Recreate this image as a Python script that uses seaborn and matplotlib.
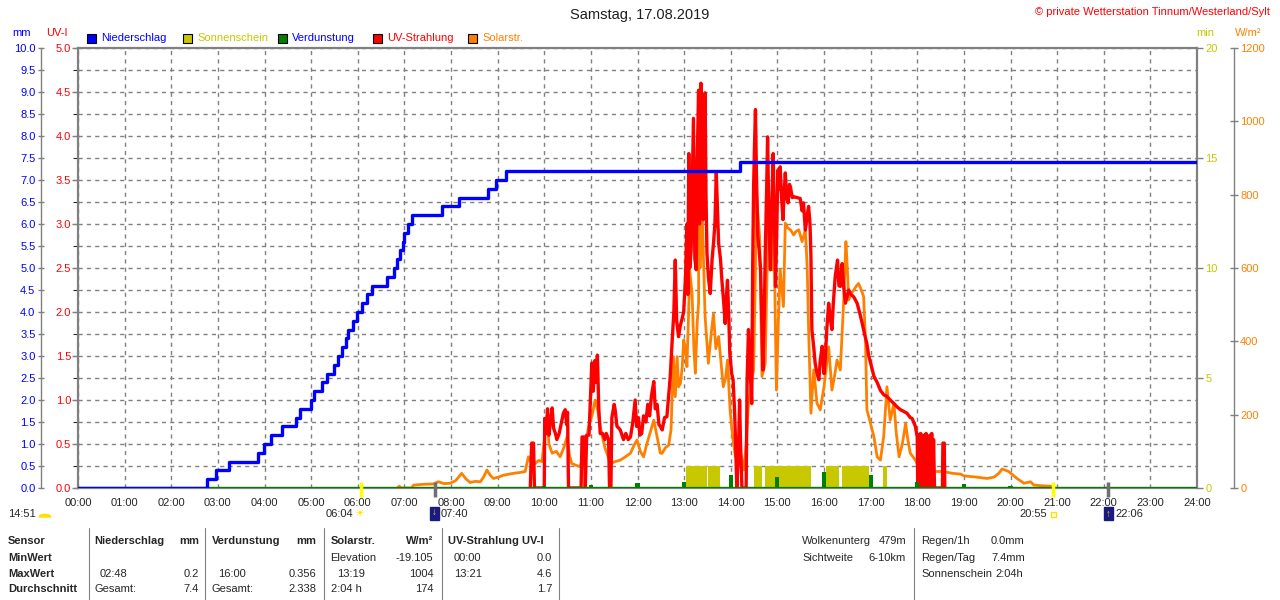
import matplotlib
matplotlib.use("Agg")
import matplotlib.pyplot as plt
from matplotlib.patches import Rectangle, Wedge
from matplotlib.lines import Line2D
import seaborn as sns

W, H = 1280, 600

# --- Niederschlag kumuliert (mm), Stufen vom Kippzähler ---
regen_zeit = [0.0, 2.76, 2.96, 3.24, 3.86, 3.99, 4.15, 4.38, 4.67, 4.77, 4.99,
              5.07, 5.24, 5.35, 5.48, 5.57, 5.67, 5.74, 5.79, 5.90, 5.99,
              6.10, 6.19, 6.31, 6.62, 6.77, 6.85, 6.91, 6.96, 7.00, 7.07,
              7.16, 7.80, 8.17, 8.80, 8.96, 9.18, 14.20, 24.0]
regen_mm = [0.0, 0.2, 0.4, 0.6, 0.8, 1.0, 1.2, 1.4, 1.6, 1.8, 2.0,
            2.2, 2.4, 2.6, 2.8, 3.0, 3.2, 3.4, 3.6, 3.8, 4.0,
            4.2, 4.4, 4.6, 4.8, 5.0, 5.2, 5.4, 5.6, 5.8, 6.0,
            6.2, 6.4, 6.6, 6.8, 7.0, 7.2, 7.4, 7.4]

# --- UV-Strahlung (UV-I) ---
uv_zeit = [9.70, 9.73, 9.77, 9.79, 10.00, 10.01, 10.04, 10.07, 10.10, 10.13, 10.17, 10.20,
           10.24, 10.27, 10.32, 10.37, 10.41, 10.45, 10.48, 10.50, 10.52, 10.79, 10.81, 10.86,
           10.88, 10.91, 10.96, 10.99, 11.02, 11.05, 11.09, 11.12, 11.14, 11.17, 11.20, 11.25,
           11.30, 11.33, 11.38, 11.40, 11.43, 11.45, 11.50, 11.52, 11.56, 11.60, 11.63, 11.70,
           11.75, 11.80, 11.85, 11.90, 11.95, 11.98, 12.02, 12.05, 12.09, 12.13, 12.18, 12.22,
           12.26, 12.30, 12.35, 12.38, 12.42, 12.46, 12.49, 12.53, 12.58, 12.63, 12.66, 12.70,
           12.74, 12.78, 12.81, 12.84, 12.88, 12.92, 12.95, 12.99, 13.03, 13.06, 13.08, 13.10,
           13.12, 13.15, 13.17, 13.20, 13.23, 13.26, 13.28, 13.31, 13.33, 13.36, 13.38, 13.41,
           13.43, 13.45, 13.47, 13.49, 13.52, 13.56, 13.60, 13.63, 13.66, 13.69, 13.72, 13.74,
           13.78, 13.81, 13.85, 13.88, 13.91, 13.93, 13.96, 13.98, 14.02, 14.05, 14.08, 14.10,
           14.12, 14.13, 14.17, 14.19, 14.21, 14.24, 14.33, 14.35, 14.38, 14.41, 14.45, 14.47,
           14.49, 14.51, 14.53, 14.55, 14.58, 14.61, 14.64, 14.67, 14.69, 14.72, 14.74, 14.77,
           14.79, 14.82, 14.85, 14.88, 14.91, 14.94, 14.96, 14.99, 15.01, 15.04, 15.06, 15.09,
           15.12, 15.15, 15.17, 15.20, 15.23, 15.26, 15.28, 15.32, 15.35, 15.42, 15.49, 15.53,
           15.56, 15.60, 15.64, 15.67, 15.70, 15.72, 15.74, 15.78, 15.81, 15.85, 15.89, 15.92,
           15.96, 16.00, 16.03, 16.06, 16.10, 16.13, 16.17, 16.20, 16.24, 16.29, 16.32, 16.35,
           16.39, 16.42, 16.46, 16.53, 16.58, 16.64, 16.71, 16.77, 16.82, 16.87, 16.92, 16.96,
           17.00, 17.07, 17.14, 17.21, 17.28, 17.35, 17.42, 17.50, 17.57, 17.64, 17.71, 17.78,
           17.85, 17.89, 17.96, 18.00, 18.01, 18.03, 18.05, 18.07, 18.09, 18.11, 18.13, 18.15,
           18.17, 18.19, 18.21, 18.23, 18.25, 18.27, 18.29, 18.31, 18.33, 18.35, 18.37, 18.54,
           18.55, 18.58, 18.59]
uv_wert = [0.0, 0.51, 0.51, 0.0, 0.0, 0.79, 0.62, 0.90, 0.60, 0.75, 0.91, 0.68,
           0.62, 0.55, 0.62, 0.75, 0.85, 0.89, 0.72, 0.86, 0.0, 0.0, 0.58, 0.58,
           0.0, 0.60, 0.60, 1.00, 1.42, 1.10, 1.45, 1.20, 1.51, 0.90, 0.62, 0.62,
           0.55, 0.62, 0.55, 0.0, 0.0, 0.80, 0.95, 0.89, 0.70, 0.68, 0.66, 0.55,
           0.62, 0.55, 0.58, 0.75, 1.00, 0.70, 0.80, 0.60, 0.62, 0.82, 0.75, 0.95,
           0.82, 1.05, 1.21, 0.90, 0.95, 0.72, 0.70, 0.66, 0.80, 0.81, 1.00, 1.25,
           1.64, 2.00, 2.59, 1.90, 1.72, 1.85, 1.91, 2.00, 2.40, 3.00, 2.20, 3.80,
           2.50, 2.70, 3.30, 4.20, 2.60, 2.48, 3.70, 4.52, 3.00, 4.60, 3.50, 3.05,
           4.20, 4.49, 3.30, 2.67, 2.40, 2.21, 2.60, 2.78, 3.00, 3.58, 3.10, 2.78,
           2.60, 2.36, 2.10, 1.87, 2.20, 2.36, 1.90, 1.53, 1.30, 1.23, 0.90, 0.58,
           0.20, 0.0, 0.50, 1.00, 0.50, 0.0, 0.0, 1.20, 1.80, 1.40, 0.96, 2.50,
           3.42, 3.90, 4.30, 3.60, 2.86, 2.70, 2.48, 1.80, 1.34, 2.00, 2.67, 3.40,
           3.99, 3.00, 2.48, 3.20, 3.80, 3.00, 2.29, 3.00, 3.61, 3.40, 3.65, 3.30,
           3.05, 3.40, 3.58, 3.30, 3.24, 3.45, 3.42, 3.30, 3.31, 3.30, 3.29, 3.15,
           3.24, 2.93, 3.10, 3.20, 3.00, 2.63, 1.80, 1.60, 1.42, 1.30, 1.23, 1.45,
           1.61, 1.30, 1.49, 1.80, 2.10, 1.95, 1.80, 2.10, 2.40, 2.59, 2.30, 2.29,
           2.55, 2.30, 2.10, 2.25, 2.20, 2.17, 2.10, 1.98, 1.87, 1.75, 1.64, 1.50,
           1.42, 1.27, 1.20, 1.11, 1.06, 1.04, 1.00, 0.96, 0.92, 0.89, 0.87, 0.85,
           0.80, 0.79, 0.70, 0.58, 0.0, 0.60, 0.0, 0.62, 0.0, 0.60, 0.05, 0.60,
           0.0, 0.62, 0.0, 0.58, 0.0, 0.60, 0.0, 0.62, 0.0, 0.55, 0.0, 0.0,
           0.51, 0.51, 0.0]

# --- Solarstrahlung (W/m²) ---
solar_zeit = [6.85, 6.89, 6.93, 7.15, 7.20, 7.40, 7.62, 7.73, 7.85, 7.98, 8.10, 8.23,
              8.32, 8.41, 8.52, 8.63, 8.70, 8.77, 8.84, 8.91, 9.02, 9.13, 9.25, 9.34,
              9.46, 9.59, 9.66, 9.72, 9.81, 9.88, 9.95, 10.02, 10.06, 10.10, 10.17, 10.26,
              10.34, 10.42, 10.49, 10.54, 10.59, 10.68, 10.77, 10.86, 10.95, 11.03, 11.09, 11.15,
              11.20, 11.30, 11.42, 11.52, 11.63, 11.74, 11.85, 11.92, 11.99, 12.06, 12.13, 12.20,
              12.27, 12.35, 12.42, 12.49, 12.53, 12.60, 12.67, 12.72, 12.77, 12.81, 12.85, 12.88,
              12.92, 12.96, 12.99, 13.03, 13.06, 13.09, 13.12, 13.17, 13.21, 13.24, 13.28, 13.31,
              13.32, 13.34, 13.38, 13.42, 13.45, 13.52, 13.58, 13.63, 13.68, 13.74, 13.80, 13.84,
              13.89, 13.93, 13.99, 14.05, 14.10, 14.17, 14.22, 14.28, 14.33, 14.38, 14.44, 14.49,
              14.53, 14.55, 14.58, 14.62, 14.67, 14.74, 14.78, 14.81, 14.85, 14.89, 14.92, 14.95,
              14.98, 15.02, 15.06, 15.13, 15.17, 15.22, 15.28, 15.35, 15.40, 15.46, 15.53, 15.60,
              15.64, 15.67, 15.72, 15.78, 15.85, 15.92, 16.00, 16.05, 16.10, 16.17, 16.22, 16.28,
              16.35, 16.42, 16.47, 16.50, 16.53, 16.58, 16.64, 16.69, 16.74, 16.80, 16.85, 16.89,
              16.92, 16.98, 17.07, 17.14, 17.21, 17.28, 17.35, 17.42, 17.50, 17.55, 17.61, 17.68,
              17.75, 17.80, 17.85, 17.96, 18.06, 18.20, 18.35, 18.57, 18.75, 18.93, 19.00, 19.25,
              19.50, 19.65, 19.75, 19.82, 19.96, 20.14, 20.29, 20.43, 20.50, 20.70, 20.86, 20.95]
solar_wert = [0, 5, 0, 0, 8, 10, 11, 17, 12, 13, 20, 40,
              25, 15, 18, 17, 30, 49, 35, 26, 30, 35, 38, 40,
              42, 45, 85, 70, 67, 75, 72, 150, 195, 120, 95, 100,
              85, 110, 140, 90, 67, 62, 58, 100, 167, 200, 240, 210,
              167, 110, 67, 72, 76, 85, 95, 115, 131, 100, 85, 120,
              150, 185, 140, 95, 95, 110, 117, 160, 358, 249, 358, 276,
              285, 330, 404, 380, 331, 450, 595, 531, 380, 313, 450, 504,
              1004, 600, 785, 600, 467, 340, 420, 476, 380, 413, 330, 276,
              300, 349, 204, 130, 85, 140, 90, 49, 120, 231, 280, 322,
              600, 813, 750, 685, 304, 340, 600, 749, 650, 595, 804, 500,
              267, 450, 595, 495, 722, 710, 704, 690, 700, 704, 672, 704,
              600, 431, 204, 322, 231, 213, 276, 330, 385, 267, 300, 349,
              322, 504, 672, 600, 513, 530, 540, 550, 558, 540, 522, 400,
              213, 185, 140, 85, 76, 140, 276, 185, 231, 150, 85, 120,
              176, 130, 95, 76, 49, 47, 45, 45, 40, 38, 33, 30,
              26, 30, 40, 52, 45, 26, 13, 17, 8, 6, 5, 0]

# --- Sonnenschein (min), Intervalle ---
sonne_start = [13.05, 13.51, 14.49, 14.73, 16.04, 16.38, 17.26]
sonne_ende = [13.49, 13.77, 14.67, 15.72, 16.33, 16.97, 17.35]
sonne_min = [1.0, 1.0, 1.0, 1.0, 1.0, 1.0, 1.0]

# --- Verdunstung (mm je Stunde) ---
verd_zeit = list(range(1, 24))
verd_mm = [0.02, 0.02, 0.02, 0.02, 0.02, 0.02, 0.02, 0.03, 0.03, 0.04, 0.06, 0.11,
           0.14, 0.30, 0.24, 0.356, 0.30, 0.14, 0.09, 0.05, 0.03, 0.03, 0.02]

# Auf-/Untergang
ereignis_zeit = [6.067, 7.667, 20.917, 22.10]
ereignis_farbe = ["#ffff00", "#707070", "#ffff00", "#707070"]

BLAU, ROT, ORANGE, OLIV, GRUEN, GRAU = "#0000ff", "#ff0000", "#ff8000", "#c8c800", "#008000", "#808080"

sns.set_style("white")
plt.rcParams["font.family"] = ["Liberation Sans", "DejaVu Sans"]
plt.rcParams["font.size"] = 8


def fx(x):
    return x / W


def fy(y):
    return 1 - y / H


fig = plt.figure(figsize=(12.8, 6), dpi=100)
ax = fig.add_axes([fx(78), fy(488), (1197 - 78) / W, (488 - 48) / H])
ax.set_xlim(0, 24)
ax.set_ylim(0, 10)
ax.set_xticks(range(25))
ax.set_xticklabels([f"{h:02d}:00" for h in range(25)], fontsize=8)
ax.set_yticks([i * 0.5 for i in range(21)])
ax.tick_params(axis="y", left=False, labelleft=False)
ax.tick_params(axis="x", length=0, pad=7)
ax.grid(True, color=GRAU, linestyle=(0, (3, 3)), linewidth=1)
for s in ax.spines.values():
    s.set_color(GRAU)
    s.set_linewidth(1.6)


def twin(a):
    t = a.twinx()
    for s in t.spines.values():
        s.set_visible(False)
    t.grid(False)
    return t


# Sonnenschein
ax_sun = twin(ax)
ax_sun.set_ylim(0, 20)
ax_sun.bar(sonne_start, sonne_min, width=[e - s for s, e in zip(sonne_start, sonne_ende)],
           align="edge", color=OLIV, linewidth=0)
ax_sun.set_yticks([0, 5, 10, 15, 20])
ax_sun.tick_params(axis="y", right=True, labelright=True, length=4.5, width=1,
                   color=GRAU, labelcolor=OLIV, pad=1.5, labelsize=8)

# Solarstrahlung
ax_w = twin(ax)
ax_w.set_ylim(0, 1200)
sns.lineplot(x=solar_zeit, y=solar_wert, ax=ax_w, color=ORANGE, linewidth=2.0, estimator=None)
ax_w.spines["right"].set_visible(True)
ax_w.spines["right"].set_position(("outward", 26.6))
ax_w.spines["right"].set_color(GRAU)
ax_w.spines["right"].set_linewidth(1)
ax_w.set_yticks(range(0, 1201, 200))
ax_w.tick_params(axis="y", right=True, labelright=True, direction="inout", length=6, width=1,
                 color=GRAU, labelcolor=ORANGE, pad=1.5, labelsize=8)
ax_w.set_ylabel("")

# UV-Strahlung
ax_uv = twin(ax)
ax_uv.set_ylim(0, 5)
sns.lineplot(x=uv_zeit, y=uv_wert, ax=ax_uv, color=ROT, linewidth=2.4, estimator=None)
ax_uv.yaxis.tick_left()
ax_uv.set_yticks([i * 0.5 for i in range(11)])
ax_uv.set_yticklabels([f"{i * 0.5:.1f}" for i in range(11)])
ax_uv.tick_params(axis="y", left=True, labelleft=True, right=False, labelright=False,
                  length=4, width=1, color=GRAU, labelcolor=ROT, pad=1, labelsize=8)
ax_uv.set_ylabel("")

# Niederschlag + Verdunstung
ax_mm = twin(ax)
ax_mm.set_ylim(0, 10)
ax_mm.axhline(0, color=GRUEN, linewidth=1.6)
ax_mm.bar(verd_zeit, verd_mm, width=0.09, color=GRUEN, linewidth=0)
sns.lineplot(x=regen_zeit, y=regen_mm, ax=ax_mm, color=BLAU, linewidth=2.4,
             drawstyle="steps-post", estimator=None)
ax_mm.yaxis.tick_left()
ax_mm.spines["left"].set_visible(True)
ax_mm.spines["left"].set_position(("outward", 26.6))
ax_mm.spines["left"].set_color(GRAU)
ax_mm.spines["left"].set_linewidth(1)
ax_mm.set_yticks([i * 0.5 for i in range(21)])
ax_mm.set_yticklabels([f"{i * 0.5:.1f}" for i in range(21)])
ax_mm.tick_params(axis="y", left=True, labelleft=True, right=False, labelright=False,
                  direction="inout", length=5, width=1, color=GRAU, labelcolor=BLAU,
                  pad=1.5, labelsize=8)
ax_mm.set_ylabel("")
ax_mm.set_xlim(0, 24)

# Auf-/Untergangsmarken an der Zeitachse
for t, c in zip(ereignis_zeit, ereignis_farbe):
    ax_mm.plot([t, t], [0.014, -0.02], transform=ax_mm.get_xaxis_transform(),
               color=c, linewidth=2.5, clip_on=False, solid_capstyle="butt")

# Titel und Kopfzeile
fig.text(0.5, fy(15), "Samstag, 17.08.2019", ha="center", va="center", fontsize=10.5, color="#202020")
fig.text(fx(1270), fy(12), "© private Wetterstation Tinnum/Westerland/Sylt",
         ha="right", va="center", fontsize=8, color=ROT)
fig.text(fx(22), fy(33), "mm", ha="center", va="center", color=BLAU)
fig.text(fx(57), fy(33), "UV-I", ha="center", va="center", color=ROT)
fig.text(fx(1205), fy(33), "min", ha="center", va="center", color=OLIV)
fig.text(fx(1248), fy(33), "W/m²", ha="center", va="center", color=ORANGE)

legende = [("Niederschlag", BLAU, BLAU, 87), ("Sonnenschein", OLIV, OLIV, 183),
           ("Verdunstung", GRUEN, BLAU, 278), ("UV-Strahlung", ROT, ROT, 373),
           ("Solarstr.", ORANGE, ORANGE, 468)]
for name, box, txt, x0 in legende:
    fig.add_artist(Rectangle((fx(x0), fy(43)), 9 / W, 9 / H, transform=fig.transFigure,
                             facecolor=box, edgecolor="black", linewidth=0.8))
    fig.text(fx(x0 + 14), fy(38), name, ha="left", va="center", color=txt, fontsize=8)

# Sonne/Mond Zeiten unter der Achse
fig.text(fx(8), fy(514), "14:51", ha="left", va="center")
fig.add_artist(Wedge((fx(45), fy(517)), 0.0045, 0, 180, transform=fig.transFigure, color="#ffe000"))
fig.text(fx(353), fy(514), "06:04", ha="right", va="center")
fig.text(fx(359), fy(514), "☀", ha="center", va="center", color="#ffe000", fontsize=8)
fig.add_artist(Rectangle((fx(430), fy(520)), 9 / W, 13 / H, transform=fig.transFigure, color="#1a1a80"))
fig.text(fx(434.5), fy(512), "↓", ha="center", va="center", color="#ffd000", fontsize=7, fontweight="bold")
fig.text(fx(441), fy(514), "07:40", ha="left", va="center")
fig.text(fx(1047), fy(514), "20:55", ha="right", va="center")
fig.add_artist(Rectangle((fx(1051), fy(517)), 5 / W, 5 / H, transform=fig.transFigure,
                         facecolor="white", edgecolor="#ffe000", linewidth=1))
fig.add_artist(Rectangle((fx(1104), fy(520)), 9 / W, 13 / H, transform=fig.transFigure, color="#1a1a80"))
fig.text(fx(1108.5), fy(514), "↑", ha="center", va="center", color="#ffd000", fontsize=7, fontweight="bold")
fig.text(fx(1115), fy(514), "22:06", ha="left", va="center")

# Tabelle unten
zeilen_y = [541.5, 558, 574, 589.5]
for y, lab in zip(zeilen_y, ["Sensor", "MinWert", "MaxWert", "Durchschnitt"]):
    fig.text(fx(8), fy(y), lab, ha="left", va="center", fontweight="bold")

for x in [89, 205, 323.5, 441.5, 559, 913.5]:
    fig.add_artist(Line2D([fx(x), fx(x)], [fy(528), 0], transform=fig.transFigure, color=GRAU, linewidth=0.8))

links = [(94.7, 0, "Niederschlag", True), (212, 0, "Verdunstung", True), (330.6, 0, "Solarstr.", True),
         (448, 0, "UV-Strahlung UV-I", True),
         (330.6, 1, "Elevation", False), (454, 1, "00:00", False),
         (100, 2, "02:48", False), (218, 2, "16:00", False), (336.7, 2, "13:19", False), (454, 2, "13:21", False),
         (94.7, 3, "Gesamt:", False), (212, 3, "Gesamt:", False), (330.6, 3, "2:04 h", False),
         (802, 0, "Wolkenunterg", False), (802, 1, "Sichtweite", False),
         (921, 0, "Regen/1h", False), (921, 1, "Regen/Tag", False), (921, 2, "Sonnenschein", False),
         (991, 0, "0.0mm", False), (991, 1, "7.4mm", False), (995, 2, "2:04h", False)]
for x, r, s, fett in links:
    fig.text(fx(x), fy(zeilen_y[r]), s, ha="left", va="center", fontweight="bold" if fett else "normal")

rechts = [(199, 0, "mm", True), (316, 0, "mm", True), (433.5, 0, "W/m²", True),
          (433.5, 1, "-19.105", False), (552, 1, "0.0", False),
          (199, 2, "0.2", False), (316, 2, "0.356", False), (433.5, 2, "1004", False), (552, 2, "4.6", False),
          (199, 3, "7.4", False), (316, 3, "2.338", False), (433.5, 3, "174", False), (552, 3, "1.7", False),
          (906, 0, "479m", False), (906, 1, "6-10km", False)]
for x, r, s, fett in rechts:
    fig.text(fx(x), fy(zeilen_y[r]), s, ha="right", va="center", fontweight="bold" if fett else "normal")

fig.savefig("out.png", dpi=100, facecolor="white")
